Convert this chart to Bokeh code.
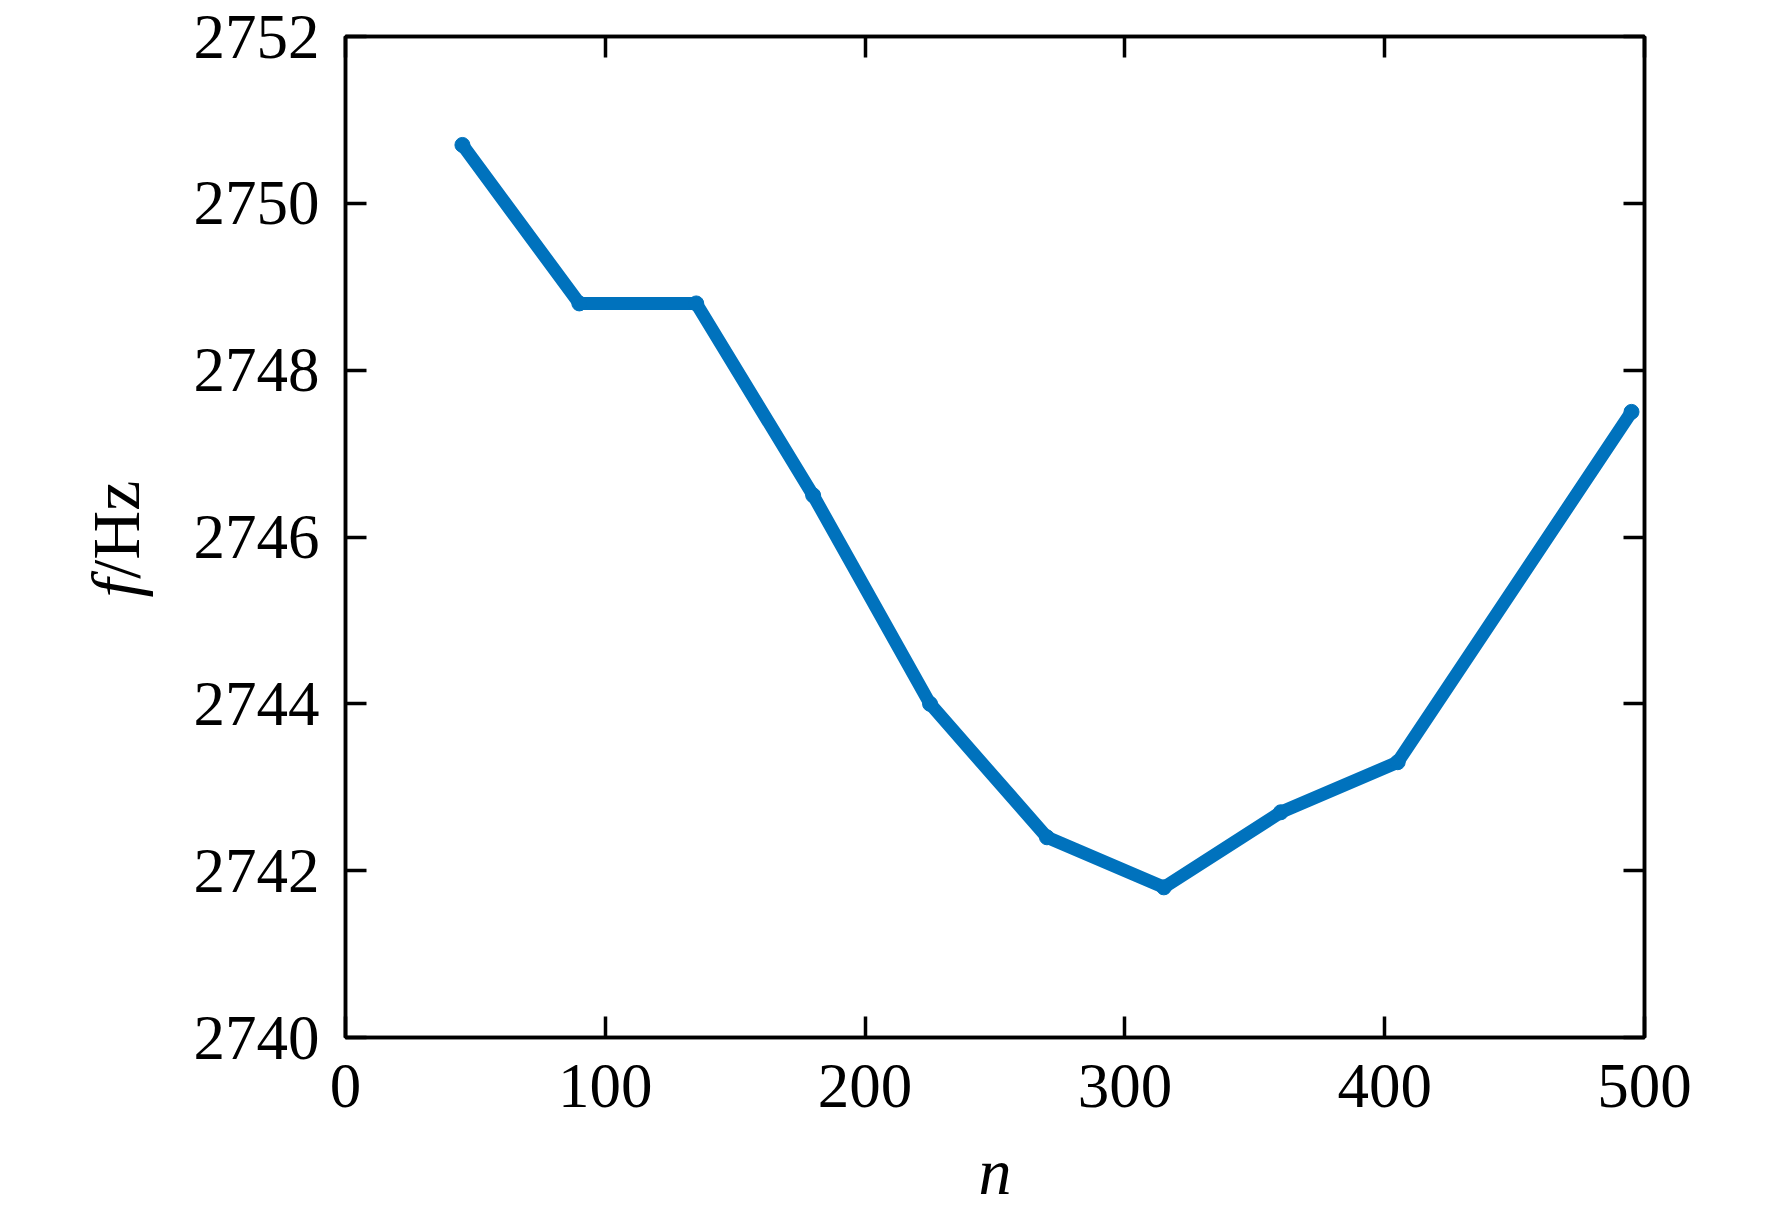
from bokeh.plotting import figure
from bokeh.embed import file_html
from bokeh.resources import INLINE
from bokeh.models import Range1d, LinearAxis, FixedTicker, Label

n_vals = [45, 90, 135, 180, 225, 270, 315, 360, 405, 495]
f_vals = [2750.7, 2748.8, 2748.8, 2746.5, 2744.0, 2742.4, 2741.8, 2742.7, 2743.3, 2747.5]
x_ticks = [0, 100, 200, 300, 400, 500]
y_ticks = [2740, 2742, 2744, 2746, 2748, 2750, 2752]

FONT = "Liberation Serif"
FS = "63px"
BLUE = "#0072BD"

p = figure(frame_width=1299, frame_height=1001,
           x_range=Range1d(0, 500), y_range=Range1d(2740, 2752),
           output_backend="svg", toolbar_location=None,
           min_border_left=345, min_border_top=36, min_border_right=100,
           min_border_bottom=168, background_fill_color="white",
           border_fill_color="white")
p.grid.visible = False
p.outline_line_color = "black"
p.outline_line_width = 3.5

def style_axis(ax, ticks, labels=True):
    ax.ticker = FixedTicker(ticks=ticks)
    ax.axis_line_color = "black"
    ax.axis_line_width = 3.5
    ax.major_tick_in = 21
    ax.major_tick_out = 0
    ax.major_tick_line_width = 3.5
    ax.major_tick_line_color = "black"
    ax.minor_tick_line_color = None
    ax.major_label_text_font = FONT
    ax.major_label_text_font_size = FS
    ax.major_label_text_color = "black"
    if not labels:
        ax.major_label_text_font_size = "0px"
        ax.major_label_text_alpha = 0

xa = p.xaxis[0]
ya = p.yaxis[0]
style_axis(xa, x_ticks)
style_axis(ya, y_ticks)
xa.major_label_standoff = 27
ya.major_label_standoff = 26
xa.axis_label = "n"
xa.axis_label_text_font = FONT
xa.axis_label_text_font_style = "italic"
xa.axis_label_text_font_size = "66px"
xa.axis_label_text_color = "black"
xa.axis_label_standoff = 25

top = LinearAxis()
right = LinearAxis()
p.add_layout(top, "above")
p.add_layout(right, "right")
style_axis(top, x_ticks, labels=False)
style_axis(right, y_ticks, labels=False)
top.major_label_standoff = 0
right.major_label_standoff = 0

p.line(n_vals, f_vals, line_color=BLUE, line_width=13, line_join="round", line_cap="round")
p.scatter(n_vals, f_vals, size=15, fill_color=BLUE, line_color=BLUE)

p.add_layout(Label(x=-88.5, y=2745.5, text="f", text_font=FONT, text_font_size="68px",
                   text_font_style="italic", text_align="right", text_baseline="alphabetic",
                   angle=1.5708, text_color="black"), "left")
p.add_layout(Label(x=-88.5, y=2745.5, text="/Hz", text_font=FONT, text_font_size="68px",
                   text_align="left", text_baseline="alphabetic",
                   angle=1.5708, text_color="black"), "left")

open("out.html", "w").write(file_html(p, INLINE))
